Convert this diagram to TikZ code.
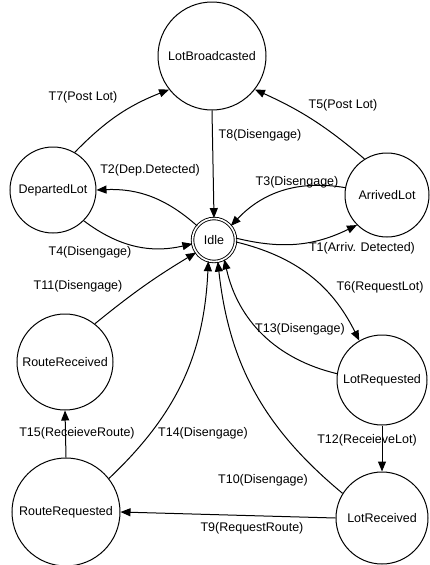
\documentclass[tikz,border=0pt]{standalone}
\usepackage{fontspec}
\setmainfont{Liberation Sans}
\usetikzlibrary{arrows.meta}

\begin{document}
\begin{tikzpicture}[x=1pt, y=1pt,
	state/.style={draw, circle, line width=1pt, inner sep=0pt, font=\fontsize{12.5}{14}\selectfont},
	idlestate/.style={state, double, double distance=1.6pt, line width=0.9pt, minimum size=43pt},
	trans/.style={line width=1pt, -{Triangle[length=10pt,width=8pt]}},
	lbl/.style={inner sep=0pt, font=\fontsize{12.5}{14}\selectfont}]
	\useasboundingbox (0,0) rectangle (429,-565);
	% states
	\node[state, minimum size=108pt] (lotbroad) at (212,-56) {LotBroadcasted};
	\node[state, minimum size=86pt] (departed) at (53,-190) {DepartedLot};
	\node[idlestate] (idle) at (214,-240) {Idle};
	\node[state, minimum size=84pt] (arrived) at (387,-195) {ArrivedLot};
	\node[state, minimum size=96pt] (routerec) at (65,-362) {RouteReceived};
	\node[state, minimum size=90pt] (lotreq) at (382,-380) {LotRequested};
	\node[state, minimum size=108pt] (routereq) at (66,-512) {RouteRequested};
	\node[state, minimum size=92pt] (lotrec) at (382,-518) {LotReceived};
	% transitions
	\draw[trans] (departed.60) to[bend left=12] (lotbroad.218);
	\draw[trans] (arrived.122) to[bend right=8] (lotbroad.-38);
	\draw[trans] (lotbroad.south) -- (idle.north);
	\draw[trans] (idle.140) to[bend right=22] (departed.east);
	\draw[trans] (arrived.170) to[bend right=28] (idle.40);
	\draw[trans] (departed.-45) to[bend right=25] (idle.190);
	\draw[trans] (idle.5) to[bend right=20] (arrived.225);
	\draw[trans] (routerec.52) to[bend left=4] (idle.215);
	\draw[trans] (idle.-5) to[bend left=25] (lotreq.120);
	\draw[trans] (lotreq.172) to[bend left=32] (idle.-62);
	\draw[trans] (lotreq.south) -- (lotrec.north);
	\draw[trans] (routereq.north) -- (routerec.south);
	\draw[trans] (routereq.38) to[bend right=22] (idle.-105);
	\draw[trans] (lotrec.148) to[bend left=22] (idle.-80);
	\draw[trans] (lotrec.west) -- (routereq.east);
	% labels
	\node[lbl] (t7) at (83,-97) {T7(Post Lot)};
	\node[lbl] (t5) at (343,-105) {T5(Post Lot)};
	\node[lbl] (t8) at (260,-135) {T8(Disengage)};
	\node[lbl] (t2) at (150,-170) {T2(Dep.Detected)};
	\node[lbl] (t3) at (297,-182) {T3(Disengage)};
	\node[lbl] (t4) at (90,-252) {T4(Disengage)};
	\node[lbl] (t1) at (362,-248) {T1(Arriv. Detected)};
	\node[lbl] (t11) at (78,-286) {T11(Disengage)};
	\node[lbl] (t6) at (380,-287) {T6(RequestLot)};
	\node[lbl] (t13) at (300,-329) {T13(Disengage)};
	\node[lbl] (t12) at (367,-440) {T12(ReceieveLot)};
	\node[lbl] (t15) at (77,-433) {T15(ReceieveRoute)};
	\node[lbl] (t14) at (203,-433) {T14(Disengage)};
	\node[lbl] (t10) at (263,-480) {T10(Disengage)};
	\node[lbl] (t9) at (252,-528) {T9(RequestRoute)};
\end{tikzpicture}
\end{document}
